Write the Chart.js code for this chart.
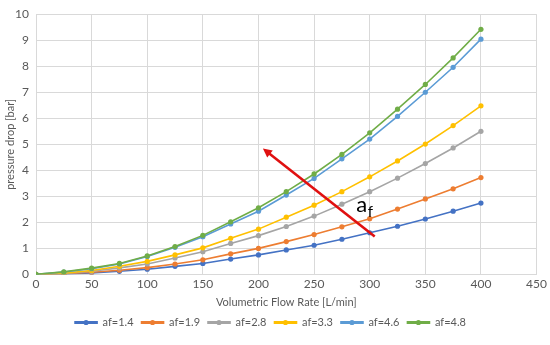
<!DOCTYPE html>
<html>
<head>
<meta charset="utf-8">
<script src="https://cdn.jsdelivr.net/npm/chart.js@4/dist/chart.umd.min.js"></script>
<style>
html,body{margin:0;padding:0;background:#fff;}
#wrap{width:550px;height:345px;}
</style>
</head>
<body>
<div id="wrap"><canvas id="c" width="550" height="345"></canvas></div>
<script>
const flowRates = [0,25,50,75,100,125,150,175,200,225,250,275,300,325,350,375,400];
const seriesNames = ['af=1.4','af=1.9','af=2.8','af=3.3','af=4.6','af=4.8'];
const af14 = [0,0.02,0.06,0.12,0.20,0.31,0.42,0.59,0.75,0.94,1.12,1.35,1.60,1.85,2.13,2.43,2.74];
const af19 = [0,0.03,0.08,0.16,0.26,0.40,0.56,0.79,1.00,1.26,1.53,1.83,2.14,2.51,2.90,3.29,3.72];
const af28 = [0,0.04,0.12,0.25,0.40,0.63,0.87,1.19,1.49,1.84,2.24,2.70,3.18,3.70,4.26,4.86,5.50];
const af33 = [0,0.05,0.15,0.31,0.50,0.75,1.02,1.39,1.74,2.20,2.66,3.18,3.75,4.36,5.01,5.72,6.48];
const af46 = [0,0.09,0.22,0.40,0.69,1.04,1.45,1.94,2.43,3.05,3.69,4.44,5.20,6.07,7.00,7.96,9.04];
const af48 = [0,0.10,0.24,0.42,0.71,1.07,1.50,2.02,2.56,3.18,3.86,4.61,5.44,6.35,7.30,8.32,9.42];
const xTicks = [0,50,100,150,200,250,300,350,400,450];
const yTicks = [0,1,2,3,4,5,6,7,8,9,10];
const arrowTail = {x:304.5, y:1.46};
const arrowHead = {x:204, y:4.84};
const labelPos = {x:288, y:2.4};

const allSeries = [af14, af19, af28, af33, af46, af48];
const colors = ['#4472C4','#ED7D31','#A5A5A5','#FFC000','#5B9BD5','#70AD47'];
const FONT = 'Lato, "Open Sans", "Liberation Sans", sans-serif';
const TXT = '#595959';

const datasets = allSeries.map((vals, i) => ({
  label: seriesNames[i],
  data: vals.map((v, j) => ({x: flowRates[j], y: v})),
  borderColor: colors[i],
  backgroundColor: colors[i],
  pointBackgroundColor: colors[i],
  pointBorderColor: colors[i],
  pointRadius: 2.6,
  pointBorderWidth: 0,
  borderWidth: 1.6,
  showLine: true,
  tension: 0,
  order: 6 - i
}));

const annot = {
  id: 'annot',
  afterDatasetsDraw(chart) {
    const ctx = chart.ctx, xs = chart.scales.x, ys = chart.scales.y;
    const x1 = xs.getPixelForValue(arrowTail.x), y1 = ys.getPixelForValue(arrowTail.y);
    const x2 = xs.getPixelForValue(arrowHead.x), y2 = ys.getPixelForValue(arrowHead.y);
    const ang = Math.atan2(y2 - y1, x2 - x1);
    const hl = 9, hw = 4.5;
    ctx.save();
    ctx.strokeStyle = '#E01010';
    ctx.fillStyle = '#E01010';
    ctx.lineWidth = 2.6;
    ctx.beginPath();
    ctx.moveTo(x1, y1);
    ctx.lineTo(x2 - Math.cos(ang) * hl * 0.8, y2 - Math.sin(ang) * hl * 0.8);
    ctx.stroke();
    ctx.beginPath();
    ctx.moveTo(x2, y2);
    ctx.lineTo(x2 - Math.cos(ang) * hl + Math.sin(ang) * hw, y2 - Math.sin(ang) * hl - Math.cos(ang) * hw);
    ctx.lineTo(x2 - Math.cos(ang) * hl - Math.sin(ang) * hw, y2 - Math.sin(ang) * hl + Math.cos(ang) * hw);
    ctx.closePath();
    ctx.fill();
    const lx = xs.getPixelForValue(labelPos.x), ly = ys.getPixelForValue(labelPos.y);
    ctx.fillStyle = '#000';
    ctx.textBaseline = 'alphabetic';
    ctx.textAlign = 'left';
    ctx.font = '22px ' + FONT;
    ctx.fillText('a', lx, ly);
    const aw = ctx.measureText('a').width;
    ctx.font = '15px ' + FONT;
    ctx.fillText('f', lx + aw + 0.5, ly + 5);
    ctx.restore();
  },
  afterDraw(chart) {
    const lg = chart.legend;
    if (!lg || !lg.legendHitBoxes) return;
    const ctx = chart.ctx;
    ctx.save();
    lg.legendHitBoxes.forEach((b, i) => {
      const item = lg.legendItems[i];
      const cx = b.left + 11, cy = b.top + b.height / 2;
      ctx.fillStyle = colors[item.datasetIndex];
      ctx.beginPath();
      ctx.arc(cx, cy, 2.6, 0, Math.PI * 2);
      ctx.fill();
    });
    ctx.restore();
  }
};

new Chart(document.getElementById('c'), {
  type: 'scatter',
  data: { datasets },
  options: {
    responsive: false,
    animation: false,
    devicePixelRatio: 1,
    layout: { padding: { left: 4, right: 13, top: 1, bottom: 7 } },
    plugins: {
      legend: {
        position: 'bottom',
        labels: {
          color: TXT,
          font: { family: FONT, size: 11 },
          boxWidth: 22,
          boxHeight: 1.6,
          padding: 8,
          sort: (a, b) => a.datasetIndex - b.datasetIndex
        }
      },
      tooltip: { enabled: false }
    },
    scales: {
      x: {
        type: 'linear',
        min: 0, max: 450,
        afterBuildTicks(s) { s.ticks = xTicks.map(v => ({value: v})); },
        ticks: { color: TXT, font: { family: FONT, size: 12 }, padding: 3 },
        grid: { color: '#D9D9D9', lineWidth: 1, drawTicks: false },
        border: { color: '#D9D9D9' },
        title: { display: true, text: 'Volumetric Flow Rate [L/min]', color: TXT, font: { family: FONT, size: 11 }, padding: { top: 1, bottom: 0 } }
      },
      y: {
        type: 'linear',
        min: 0, max: 10,
        afterBuildTicks(s) { s.ticks = yTicks.map(v => ({value: v})); },
        ticks: { color: TXT, font: { family: FONT, size: 12 }, padding: 7 },
        grid: { color: '#D9D9D9', lineWidth: 1, drawTicks: false },
        border: { display: false },
        title: { display: true, text: 'pressure drop [bar]', color: TXT, font: { family: FONT, size: 11 }, padding: { top: 0, bottom: 1 } },
        afterFit(s) { s.width = 32; }
      }
    }
  },
  plugins: [annot]
});
</script>
</body>
</html>
